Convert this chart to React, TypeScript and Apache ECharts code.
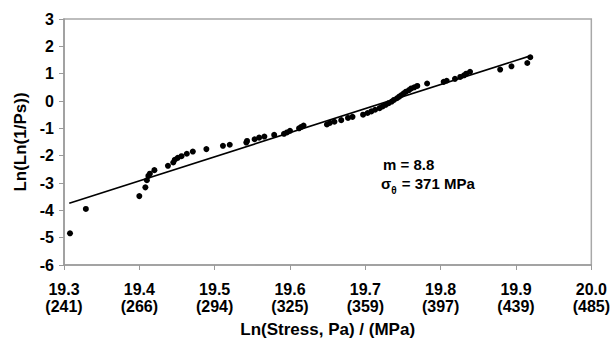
import React, { useEffect, useRef } from "react";
import * as echarts from "echarts";

const xTickValues = ["19.3", "19.4", "19.5", "19.6", "19.7", "19.8", "19.9", "20.0"];
const mpaLabels = ["(241)", "(266)", "(294)", "(325)", "(359)", "(397)", "(439)", "(485)"];

const lnStress = [
  19.308, 19.329, 19.4, 19.408, 19.41, 19.412, 19.414, 19.42, 19.438, 19.445,
  19.447, 19.451, 19.456, 19.463, 19.471, 19.489, 19.511, 19.52, 19.542, 19.543,
  19.553, 19.559, 19.566, 19.579, 19.592, 19.596, 19.6, 19.612, 19.615, 19.618,
  19.649, 19.653, 19.659, 19.668, 19.677, 19.683, 19.697, 19.703, 19.708, 19.713,
  19.719, 19.723, 19.727, 19.731, 19.735, 19.738, 19.742, 19.745, 19.748, 19.751,
  19.754, 19.758, 19.761, 19.765, 19.769, 19.782, 19.804, 19.808, 19.819, 19.826,
  19.831, 19.834, 19.839, 19.879, 19.894, 19.915, 19.919,
];
const lnLnInvPs = [
  -4.84, -3.95, -3.48, -3.16, -2.9, -2.74, -2.66, -2.53, -2.37, -2.25,
  -2.15, -2.08, -2.02, -1.93, -1.85, -1.76, -1.64, -1.6, -1.52, -1.46,
  -1.4, -1.34, -1.3, -1.24, -1.2, -1.15, -1.09, -1.0, -0.95, -0.9,
  -0.86, -0.8, -0.76, -0.7, -0.62, -0.58, -0.5, -0.44, -0.38, -0.32,
  -0.26, -0.2, -0.14, -0.08, -0.02, 0.04, 0.1, 0.16, 0.22, 0.28,
  0.34, 0.4, 0.46, 0.5, 0.55, 0.64, 0.7, 0.74, 0.81, 0.88,
  0.94, 1.0, 1.07, 1.15, 1.27, 1.39, 1.6,
];

const fitX = [19.307, 19.92];
const fitY = [-3.74, 1.66];

const FONT = "Liberation Sans, Arial, sans-serif";

export default function App() {
  const ref = useRef<HTMLDivElement>(null);
  useEffect(() => {
    if (!ref.current) return;
    const chart = echarts.init(ref.current, undefined, { renderer: "svg" });
    const axisColor = "#9a9a9a";
    chart.setOption({
      animation: false,
      backgroundColor: "#ffffff",
      grid: {
        left: 64,
        top: 19,
        right: 15,
        bottom: 76,
        show: true,
        borderColor: "#a8a8a8",
        borderWidth: 1.5,
        backgroundColor: "transparent",
      },
      xAxis: {
        type: "value",
        min: 19.3,
        max: 20.0,
        interval: 0.1,
        name: "Ln(Stress, Pa) / (MPa)",
        nameLocation: "middle",
        nameGap: 56,
        nameTextStyle: { fontFamily: FONT, fontWeight: "bold", fontSize: 17, color: "#000" },
        axisLine: { onZero: false, lineStyle: { color: axisColor, width: 1.5 } },
        axisTick: { show: true, length: 5, inside: false, lineStyle: { color: axisColor } },
        splitLine: { show: false },
        axisLabel: {
          margin: 16,
          fontFamily: FONT,
          fontWeight: "bold",
          fontSize: 16,
          lineHeight: 17,
          color: "#000",
          showMinLabel: true,
          showMaxLabel: true,
          formatter: (v: number) => {
            const i = Math.round((v - 19.3) / 0.1);
            return xTickValues[i] + "\n" + mpaLabels[i];
          },
        },
      },
      yAxis: {
        type: "value",
        min: -6,
        max: 3,
        interval: 1,
        name: "Ln(Ln(1/Ps))",
        nameLocation: "middle",
        nameGap: 33,
        nameTextStyle: { fontFamily: FONT, fontWeight: "bold", fontSize: 17, color: "#000" },
        axisLine: { show: true, onZero: false, lineStyle: { color: axisColor, width: 1.5 } },
        axisTick: { show: true, length: 5, inside: false, lineStyle: { color: axisColor } },
        splitLine: { show: false },
        axisLabel: {
          margin: 10,
          fontFamily: FONT,
          fontWeight: "bold",
          fontSize: 16,
          color: "#000",
        },
      },
      series: [
        {
          type: "line",
          data: fitX.map((x, i) => [x, fitY[i]]),
          symbol: "none",
          lineStyle: { color: "#000", width: 1.6 },
          z: 2,
        },
        {
          type: "scatter",
          data: lnStress.map((x, i) => [x, lnLnInvPs[i]]),
          symbol: "circle",
          symbolSize: 6,
          itemStyle: { color: "#000", opacity: 1 },
          z: 3,
        },
      ],
      graphic: [
        {
          type: "text",
          left: 383,
          top: 157,
          style: {
            text: "m = 8.8",
            fontFamily: FONT,
            fontWeight: "bold",
            fontSize: 15,
            fill: "#000",
          },
        },
        {
          type: "text",
          left: 381,
          top: 176,
          style: {
            text: "{s|σ}{sub|θ}{s| = 371 MPa}",
            rich: {
              s: { fontFamily: FONT, fontWeight: "bold", fontSize: 15, fill: "#000", verticalAlign: "top", lineHeight: 18 },
              sub: { fontFamily: FONT, fontWeight: "bold", fontSize: 10, fill: "#000", padding: [9, 1, 0, 0], lineHeight: 18, verticalAlign: "top" },
            },
          },
        },
      ],
    });
    return () => chart.dispose();
  }, []);
  return (
    <div
      ref={ref}
      style={{ position: "absolute", left: 0, top: 0, width: 613, height: 343 }}
    />
  );
}
